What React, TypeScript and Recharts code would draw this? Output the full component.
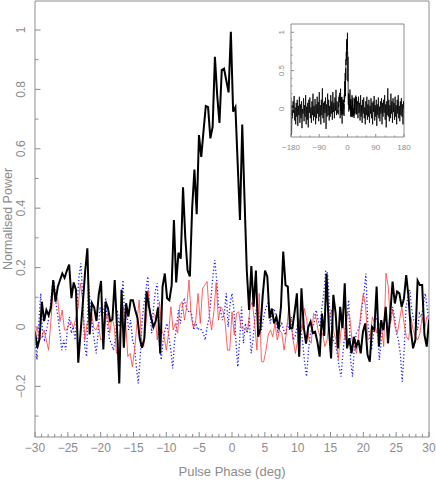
import { LineChart, Line, XAxis, YAxis, ReferenceLine } from 'recharts'

const GREY = '#8c8c8c'
const FONT = '"Liberation Sans", Arial, sans-serif'

// Pulse profile (black), on-pulse window -30..30 deg
const BLACK = [
    -0.016, -0.07, -0.04, 0.085, 0.02, 0.057, 0.04, 0.065, 0.158, 0.085, 0.135, 0.158, 0.18, 0.165, 0.19, 0.21,
    0.097, 0.15, 0.125, -0.12, -0.02, 0.08, 0.185, 0.265, -0.025, 0.08, 0.065, 0.02, 0.11, 0.155, -0.076, 0.085,
    0.065, 0.02, 0.025, 0.158, 0.0, -0.19, 0.125, -0.07, 0.08, 0.035, 0.09, 0.09, 0.057, 0.03, -0.04, -0.07,
    -0.04, 0.12, 0.07, 0.03, 0.0, 0.02, 0.065, -0.09, 0.135, 0.18, 0.097, 0.09, 0.14,
    // main peak
    0.36, 0.15, 0.25, 0.23, 0.47, 0.3, 0.19, 0.17, 0.4, 0.53, 0.38, 0.646, 0.573, 0.66, 0.744, 0.74, 0.635, 0.674,
    0.91, 0.78, 0.687, 0.865, 0.87, 0.83, 0.79, 0.994, 0.725, 0.74, 0.55, 0.36, 0.682, 0.43,
    0.19, 0.057, 0.205, 0.068, 0.19, -0.033, -0.004, 0.108, 0.19, 0.17, 0.029, 0.062, 0.012, 0.034, -0.008, 0.068,
    0.254, 0.141, 0.136, -0.004, -0.004, 0.051, 0.113, -0.1, 0.13, 0.0, -0.056, 0.0, 0.018, -0.02, -0.016, -0.05,
    -0.1, 0.045, -0.03, 0.18, 0.0,
    -0.106, 0.108, 0.046, -0.072, 0.068, -0.004, 0.147, -0.072, -0.038, -0.089, -0.033, -0.066, -0.044, -0.089,
    -0.016, 0.012, -0.094, -0.117, 0.0, -0.01, 0.136, -0.066, 0.023, -0.01, 0.068, -0.055, 0.046, 0.153, 0.079,
    0.119, 0.113, 0.068, 0.096, 0.175, 0.102, -0.01, -0.072, -0.044, 0.156, 0.141, 0.141, -0.027, -0.066, 0.023,
]

// red (thin solid)
const RED = [
    -0.027, 0.0, -0.044, -0.033, -0.01, -0.044, -0.078, 0.018, 0.124, 0.108, 0.096, 0.018, 0.057, -0.01, -0.01,
    0.007, 0.018, -0.004, 0.029, 0.062, 0.147, 0.091, -0.044, 0.012, 0.023, 0.046, -0.004, -0.01, 0.012, -0.044,
    -0.038, 0.018, 0.046, -0.021, 0.034, 0.0, -0.089, -0.055, 0.012, 0.068, 0.018, -0.1,
    -0.089, -0.134, -0.078, 0.012, 0.091, -0.044, -0.066, 0.012, 0.124, 0.034, 0.046, 0.04, -0.044, 0.085, -0.01,
    -0.033, -0.078, -0.021, 0.068, -0.01, 0.012, -0.021, 0.074, 0.085, 0.023, 0.068, 0.158, 0.034, -0.004, 0.023,
    0.113, 0.012, 0.13, 0.141, 0.153, 0.04, -0.01, 0.051, 0.15, 0.023, 0.068, 0.057, 0.012, -0.078,
    -0.078, 0.051, -0.027, 0.046, 0.051, -0.004, -0.004, -0.01, -0.01, 0.068, 0.085, 0.012, -0.078, 0.113, -0.117,
    -0.117, -0.078, -0.027, -0.01, -0.033, 0.012, -0.044, -0.01, -0.021, -0.078, -0.021, 0.062, 0.012, -0.044,
    -0.089, -0.044, 0.023, -0.01, 0.062, 0.023, -0.044, -0.055, 0.046, 0.034, -0.01, -0.033, -0.021, -0.066, -0.044,
    0.034, 0.057, -0.021, -0.044, -0.106, -0.021, 0.034, -0.044, 0.051, 0.034, -0.044, -0.066, -0.089, -0.021,
    0.057, 0.113, 0.068, -0.044, -0.033, 0.034, 0.012, -0.021, 0.012, 0.0, -0.066, 0.181, 0.136, 0.012, 0.057, 0.0,
    -0.021, 0.023, 0.068, 0.012, -0.033, -0.044, 0.034, -0.01, -0.033, -0.044, -0.021, 0.034, -0.01, 0.034, 0.023,
]

// blue (dotted)
const BLUE = [
    -0.033, -0.111, 0.012, 0.113, -0.033, -0.044, -0.01, 0.023, 0.068, 0.136, 0.153, 0.079, 0.034, -0.021, -0.078,
    -0.044, -0.078, -0.004, 0.034, -0.021, 0.0, -0.044, 0.068, 0.17, 0.214, 0.091, -0.066, -0.1, 0.147, 0.068, 0.0,
    -0.044, -0.089, -0.021, 0.068, 0.034, 0.057, 0.096, 0.0, -0.044, -0.055, -0.078, -0.044, 0.057, 0.0, 0.057,
    0.158, 0.012,
    0.046, -0.01, 0.023, -0.044, -0.066, -0.134, -0.19, -0.1, 0.023, 0.079, 0.124, 0.17, 0.057, -0.021, 0.068,
    0.124, 0.147, -0.055, -0.111, -0.044, -0.01, 0.012, -0.033, -0.078, -0.14, -0.044, 0.0, 0.057, 0.012, 0.068,
    0.091, 0.068, 0.051, 0.057, 0.04, -0.01, 0.018, -0.01, -0.004, -0.01, -0.021, -0.044, 0.0, 0.029, 0.096, 0.17,
    0.225, 0.158, 0.068, 0.057, 0.023,
    0.046, 0.113, 0.0, 0.079, 0.113, 0.057, -0.044, -0.134, -0.044, 0.068, -0.055, 0.012, -0.021, 0.034, -0.089,
    -0.044, 0.034, 0.068, 0.046, -0.021, 0.012, 0.046, 0.068, 0.085, 0.012, 0.046, 0.062, 0.034, -0.021, 0.0, 0.012,
    -0.01, -0.027, 0.012, -0.01, 0.034, -0.044, -0.033, 0.0, 0.029, 0.0, -0.055, -0.122, -0.167, -0.078, -0.021, 0.0,
    0.012, 0.057, 0.023, 0.0, 0.068, 0.113,
    0.19, 0.18, 0.068, 0.0, -0.044, -0.055, -0.089, -0.134, -0.167, -0.089, -0.021, 0.034, 0.091, -0.111, -0.167,
    -0.066, -0.021, -0.01, 0.012, 0.068, 0.113, 0.18, 0.012, -0.033, -0.078, -0.021, 0.034, 0.023, -0.111, -0.044,
    0.0, 0.034, 0.012, -0.01, 0.023, 0.068, 0.034, -0.021, -0.044, -0.089, -0.184, -0.078, 0.068, 0.102, 0.124,
    0.057, 0.023, 0.012, -0.01, 0.046, 0.034, 0.068, 0.113, 0.068, 0.012,
]

// full-rotation profile for the inset: off-pulse either side of the window
const OFF_LEFT = [
    0.15, -0.34, 0.05, -0.12, 0.1, -0.05, 0.17, -0.15, 0.02, -0.2, 0.08, -0.1, 0.12, -0.22, 0.04, -0.08, 0.16, -0.18,
    0.06, -0.12, 0.1, -0.25, 0.0, -0.06, 0.14, -0.16, 0.05, -0.1, 0.18, -0.2, 0.03, -0.14, 0.08, -0.24, 0.12, -0.05,
    0.15, -0.12, 0.02, -0.18, 0.1, -0.08, 0.2, -0.15, 0.04, -0.1, 0.13, -0.2, 0.06, -0.12, 0.16, -0.06, 0.09, -0.16,
    0.22, -0.1, 0.05, -0.2, 0.12, -0.08, 0.27, -0.12, 0.08, -0.18, 0.1, -0.05, 0.15, -0.26, 0.06, -0.1, 0.2, -0.08,
    0.12, -0.15, 0.04, -0.1, 0.18, -0.06, 0.1, -0.14, 0.22, -0.04, 0.08, -0.12, 0.15, -0.02, 0.25, -0.08, 0.1, -0.05,
]
const OFF_RIGHT = [
    0.1, -0.12, 0.16, -0.05, 0.08, -0.15, 0.18, -0.1, 0.05, -0.18, 0.12, -0.06, 0.15, -0.12, 0.02, -0.2, 0.1, -0.08,
    0.16, -0.14, 0.06, -0.1, 0.12, -0.18, 0.04, -0.06, 0.14, -0.12, 0.08, -0.2, 0.1, -0.04, 0.17, -0.15, 0.05, -0.1,
    0.12, -0.22, 0.06, -0.08, 0.15, -0.12, 0.03, -0.16, 0.1, -0.06, 0.14, -0.2, 0.08, -0.1, 0.12, -0.05, 0.18, -0.14,
    0.06, -0.24, 0.1, -0.08, 0.27, -0.1, 0.12, -0.16, 0.05, -0.12, 0.2, -0.06, 0.1, -0.18, 0.14, -0.04, 0.08, -0.14,
    0.16, -0.1, 0.05, -0.2, 0.12, -0.06, 0.18, -0.12, 0.04, -0.16, 0.1, -0.08, 0.14, -0.1, 0.06, -0.2, 0.1, 0.0,
]

const X_LABELS = [-30, -25, -20, -15, -10, -5, 0, 5, 10, 15, 20, 25, 30]
const Y_LABELS = [-0.2, 0, 0.2, 0.4, 0.6, 0.8, 1]
const INSET_X_LABELS = [-180, -90, 0, 90, 180]
const INSET_Y_LABELS = [0, 0.5, 1]

const Y_MIN = -0.3705
const Y_MAX = 1.0976
const INSET_Y_MIN = -0.365
const INSET_Y_MAX = 1.108

function range(from: number, to: number, step: number) {
    const out: number[] = []
    const n = Math.round((to - from) / step)
    for (let i = 0; i <= n; i++) out.push(Math.round((from + i * step) * 1000) / 1000)
    return out
}

// evenly spaced bins across a phase window
function toPoints(vals: number[], start: number, end: number) {
    return vals.map((v, i) => ({ phase: start + ((end - start) * i) / (vals.length - 1), v }))
}

const blackPts = toPoints(BLACK, -30, 30)
const redPts = toPoints(RED, -30, 30)
const bluePts = toPoints(BLUE, -30, 30)

const insetPts = [
    ...OFF_LEFT.map((v, i) => ({ phase: -180 + (150 * i) / OFF_LEFT.length, v })),
    ...blackPts,
    ...OFF_RIGHT.map((v, i) => ({ phase: 30 + (150 * (i + 1)) / OFF_RIGHT.length, v })),
]

function fmt(v: number) {
    const s = String(Math.round(v * 100) / 100)
    return v < 0 ? '\u2212' + s.slice(1) : s
}

const isLabel = (v: number, list: number[]) => list.some((l) => Math.abs(l - v) < 1e-6)

function makeXTick(labels: number[], major: number, minor: number, fontSize: number, dy: number) {
    return (props: any) => {
        const { x, y, payload } = props
        const lab = isLabel(payload.value, labels)
        return (
            <g>
                <line x1={x} x2={x} y1={y} y2={y - (lab ? major : minor)} stroke={GREY} />
                {lab && (
                    <text x={x} y={y + dy} textAnchor="middle" fontSize={fontSize} fill={GREY} fontFamily={FONT}>
                        {fmt(payload.value)}
                    </text>
                )}
            </g>
        )
    }
}

function makeYTick(labels: number[], major: number, minor: number, fontSize: number, dx: number) {
    return (props: any) => {
        const { x, y, payload } = props
        const lab = isLabel(payload.value, labels)
        const tx = x - dx
        return (
            <g>
                <line x1={x} x2={x + (lab ? major : minor)} y1={y} y2={y} stroke={GREY} />
                {lab && (
                    <text x={tx} y={y} transform={`rotate(-90 ${tx} ${y})`} textAnchor="middle" fontSize={fontSize}
                        fill={GREY} fontFamily={FONT}>
                        {fmt(payload.value)}
                    </text>
                )}
            </g>
        )
    }
}

const mainXTick = makeXTick(X_LABELS, 5, 3, 12, 15)
const mainYTick = makeYTick(Y_LABELS, 5.5, 3.5, 12, 9.7)
const insetXTick = makeXTick(INSET_X_LABELS, 3, 1.5, 8, 13)
const insetYTick = makeYTick(INSET_Y_LABELS, 3, 1.5, 8, 6.5)

export default function App() {
    return (
        <div style={{ position: 'absolute', left: 0, top: 0, width: 436, height: 480, background: '#fff' }}>
            <LineChart width={436} height={480} margin={{ top: 1, right: 7, bottom: 0, left: 0 }}>
                <XAxis type="number" dataKey="phase" domain={[-30, 30]} allowDataOverflow ticks={range(-30, 30, 1)}
                    interval={0} tickSize={0} tickMargin={0} height={43} axisLine={{ stroke: GREY }} tickLine={false}
                    tick={mainXTick} />
                <YAxis type="number" domain={[Y_MIN, Y_MAX]} allowDataOverflow ticks={range(-0.3, 1.0, 0.1)}
                    interval={0} tickSize={0} tickMargin={0} width={35} axisLine={{ stroke: GREY }} tickLine={false}
                    tick={mainYTick} />
                <ReferenceLine y={Y_MAX} stroke={GREY} />
                <ReferenceLine x={30} stroke={GREY} />
                <Line data={bluePts} dataKey="v" type="linear" stroke="#1a1aff" strokeWidth={1.3}
                    strokeDasharray="1.2 2.2" dot={false} isAnimationActive={false} />
                <Line data={redPts} dataKey="v" type="linear" stroke="#ff3b3b" strokeWidth={0.8} dot={false}
                    isAnimationActive={false} />
                <Line data={blackPts} dataKey="v" type="linear" stroke="#000" strokeWidth={2} dot={false}
                    isAnimationActive={false} />
            </LineChart>

            {/* axis titles */}
            <svg width={436} height={480} style={{ position: 'absolute', left: 0, top: 0, pointerEvents: 'none' }}>
                <text x={12} y={219} transform="rotate(-90 12 219)" textAnchor="middle" fontSize={12.5} fill={GREY}
                    fontFamily={FONT}>
                    Normalised Power
                </text>
                <text x={232} y={476} textAnchor="middle" fontSize={13} fill={GREY} fontFamily={FONT}>
                    Pulse Phase (deg)
                </text>
            </svg>

            {/* inset: full rotation */}
            <div style={{ position: 'absolute', left: 262, top: 14 }}>
                <LineChart width={160} height={145} margin={{ top: 10, right: 18, bottom: 0, left: 0 }}>
                    <XAxis type="number" dataKey="phase" domain={[-180, 180]} allowDataOverflow
                        ticks={range(-180, 180, 30)} interval={0} tickSize={0} tickMargin={0} height={22}
                        axisLine={{ stroke: GREY }} tickLine={false} tick={insetXTick} />
                    <YAxis type="number" domain={[INSET_Y_MIN, INSET_Y_MAX]} allowDataOverflow
                        ticks={range(-0.3, 1.0, 0.1)} interval={0} tickSize={0} tickMargin={0} width={29}
                        axisLine={{ stroke: GREY }} tickLine={false} tick={insetYTick} />
                    <ReferenceLine y={INSET_Y_MAX} stroke={GREY} />
                    <ReferenceLine x={180} stroke={GREY} />
                    <Line data={insetPts} dataKey="v" type="linear" stroke="#000" strokeWidth={0.8} dot={false}
                        isAnimationActive={false} />
                </LineChart>
            </div>
        </div>
    )
}
